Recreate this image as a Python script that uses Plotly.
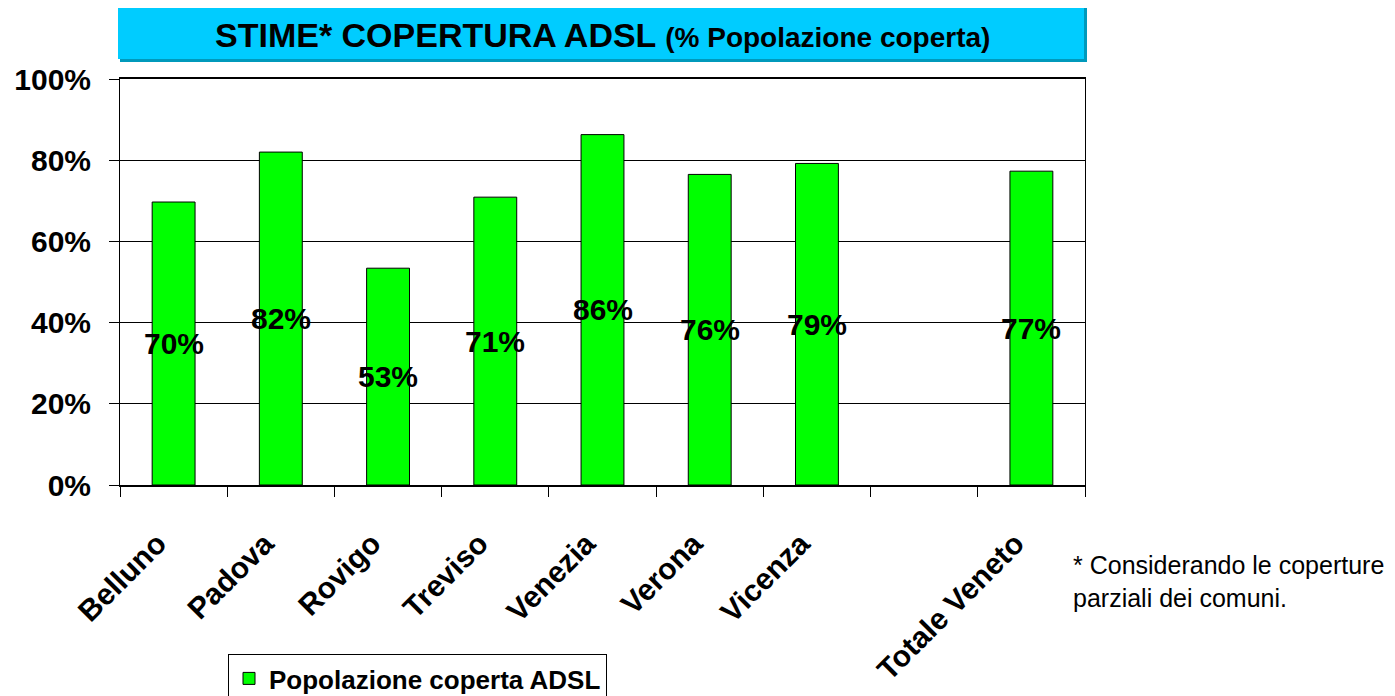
import plotly.graph_objects as go

categories = ["Belluno", "Padova", "Rovigo", "Treviso", "Venezia", "Verona", "Vicenza", " ", "Totale Veneto"]
coverage = [0.697, 0.82, 0.534, 0.709, 0.863, 0.765, 0.792, None, 0.773]
series_name = "Popolazione coperta ADSL"
y_ticks = [0, 0.2, 0.4, 0.6, 0.8, 1.0]

FONT = "Liberation Sans, Arial, sans-serif"

# page body has an 8px margin, so the figure is drawn 8px smaller and shifted
OFF = 8
W, H = 1395 - OFF, 696 - OFF
L, R, T, B = 120 - OFF, 1085 - OFF, 79 - OFF, 485 - OFF
pw, ph = R - L, B - T


def px(x):
    return (x - OFF - L) / pw


def py(y):
    return (B - (y - OFF)) / ph


fig = go.Figure()
fig.add_trace(go.Bar(
    x=categories, y=coverage, name="<b>" + series_name + "</b>",
    marker=dict(color="#00FF00", line=dict(color="black", width=1)),
    width=0.4, showlegend=True,
))

annotations = []
for c, v in zip(categories, coverage):
    if v is None:
        continue
    annotations.append(dict(x=c, y=v / 2, xref="x", yref="y", text=f"<b>{v:.0%}</b>",
                            showarrow=False, font=dict(family=FONT, size=30, color="black")))

annotations.append(dict(x=px(602), y=py(35), xref="paper", yref="paper",
                        text="<b>STIME* COPERTURA ADSL <span style='font-size:28px'>(% Popolazione coperta)</span></b>",
                        showarrow=False, font=dict(family=FONT, size=34, color="black"),
                        xanchor="center", yanchor="middle"))
annotations.append(dict(x=px(1071), y=py(549), xref="paper", yref="paper",
                        text="* Considerando le coperture<br>parziali dei comuni.",
                        showarrow=False, align="left", xanchor="left", yanchor="top",
                        font=dict(family=FONT, size=25, color="black")))

shapes = [
    dict(type="rect", xref="paper", yref="paper", x0=px(120), x1=px(1087), y0=py(62), y1=py(8),
         fillcolor="#0099BB", line=dict(width=0), layer="below"),
    dict(type="rect", xref="paper", yref="paper", x0=px(118), x1=px(1084), y0=py(59), y1=py(6),
         fillcolor="#00CCFF", line=dict(width=0), layer="below"),
]

fig.update_layout(
    width=W, height=H,
    margin=dict(l=L, r=W - R, t=T, b=H - B, autoexpand=False),
    paper_bgcolor="white", plot_bgcolor="white",
    font=dict(family=FONT, color="black"),
    annotations=annotations,
    shapes=shapes,
    legend=dict(x=px(228), y=py(654), xanchor="left", yanchor="top",
                bordercolor="black", borderwidth=1, bgcolor="white",
                font=dict(family=FONT, size=26, color="black")),
    xaxis=dict(
        type="category", categoryorder="array", categoryarray=categories,
        tickangle=-45, tickfont=dict(family=FONT, size=30, color="black", weight="bold"),
        ticks="outside", ticklen=10, tickcolor="black", tickson="boundaries",
        ticklabelstandoff=27, ticklabelshift=-16,
        showline=True, linecolor="black", linewidth=2, mirror=True,
        showgrid=False, range=[-0.5, 8.5], automargin=False,
    ),
    yaxis=dict(
        range=[0, 1], tickvals=y_ticks, tickformat=".0%",
        tickfont=dict(family=FONT, size=30, color="black", weight="bold"),
        ticks="outside", ticklen=10, tickcolor="black", ticklabelstandoff=12,
        showline=True, linecolor="black", linewidth=1, mirror=True,
        showgrid=True, gridcolor="black", gridwidth=1, zeroline=False, automargin=False,
    ),
)

fig.write_html("out.html")
